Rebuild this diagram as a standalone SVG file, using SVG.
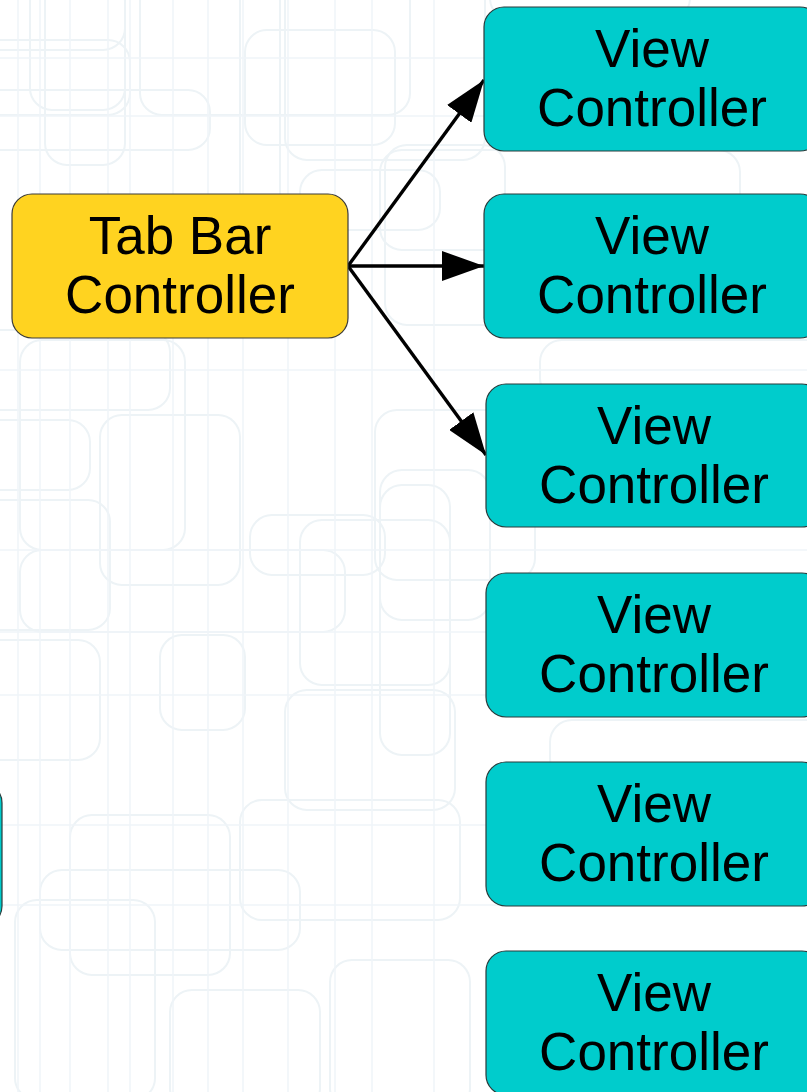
<svg xmlns="http://www.w3.org/2000/svg" width="807" height="1092" viewBox="0 0 807 1092">
  <defs>
    <style>
      .bg { fill: none; stroke: #edf3f6; stroke-width: 2; }
      .bgl { fill: none; stroke: #eff5f8; stroke-width: 1.5; }
      .tab { fill: #ffd320; stroke: #3a3a3a; stroke-width: 1.2; }
      .vc { fill: #00cccc; stroke: #2a3a3a; stroke-width: 1.2; }
      .lbl { font-family: "Liberation Sans", Arial, sans-serif; font-size: 53px; fill: #000; text-anchor: middle; }
      .edge { stroke: #000; stroke-width: 3.4; fill: none; }
    </style>
    <marker id="arrow" viewBox="0 0 42 30" refX="42" refY="15" markerWidth="42" markerHeight="30" markerUnits="userSpaceOnUse" orient="auto">
      <path d="M0,0 L42,15 L0,30 z" fill="#000"/>
    </marker>
  </defs>

  <!-- canvas -->
  <rect width="807" height="1092" fill="#ffffff"/>

  <!-- faint rounded-rectangle backdrop -->
  <g id="backdrop">
    <rect class="bg" x="-20" y="-30" width="145" height="80" rx="22"/>
    <rect class="bg" x="30" y="-20" width="95" height="130" rx="22"/>
    <rect class="bg" x="-20" y="40" width="150" height="75" rx="22"/>
    <rect class="bg" x="45" y="-20" width="80" height="185" rx="22"/>
    <rect class="bg" x="140" y="-20" width="270" height="135" rx="22"/>
    <rect class="bg" x="245" y="30" width="150" height="115" rx="22"/>
    <rect class="bg" x="-20" y="90" width="230" height="60" rx="22"/>
    <rect class="bg" x="240" y="-20" width="40" height="330" rx="22"/>
    <rect class="bg" x="285" y="-20" width="200" height="180" rx="22"/>
    <rect class="bg" x="385" y="145" width="120" height="180" rx="22"/>
    <rect class="bg" x="300" y="170" width="140" height="60" rx="22"/>
    <rect class="bg" x="380" y="150" width="360" height="100" rx="22"/>
    <rect class="bg" x="-20" y="330" width="190" height="80" rx="22"/>
    <rect class="bg" x="20" y="340" width="165" height="210" rx="22"/>
    <rect class="bg" x="-20" y="420" width="110" height="70" rx="22"/>
    <rect class="bg" x="-20" y="500" width="130" height="130" rx="22"/>
    <rect class="bg" x="20" y="550" width="325" height="82" rx="22"/>
    <rect class="bg" x="100" y="415" width="140" height="170" rx="22"/>
    <rect class="bg" x="250" y="515" width="135" height="60" rx="22"/>
    <rect class="bg" x="375" y="410" width="160" height="170" rx="22"/>
    <rect class="bg" x="380" y="485" width="70" height="270" rx="22"/>
    <rect class="bg" x="300" y="520" width="150" height="165" rx="22"/>
    <rect class="bg" x="380" y="470" width="110" height="150" rx="22"/>
    <rect class="bg" x="160" y="635" width="85" height="95" rx="22"/>
    <rect class="bg" x="-20" y="640" width="120" height="120" rx="22"/>
    <rect class="bg" x="285" y="690" width="170" height="120" rx="22"/>
    <rect class="bg" x="70" y="815" width="160" height="160" rx="22"/>
    <rect class="bg" x="15" y="900" width="140" height="200" rx="22"/>
    <rect class="bg" x="240" y="800" width="220" height="120" rx="22"/>
    <rect class="bg" x="170" y="990" width="150" height="120" rx="22"/>
    <rect class="bg" x="330" y="960" width="140" height="150" rx="22"/>
    <rect class="bg" x="40" y="870" width="260" height="80" rx="22"/>
    <rect class="bg" x="490" y="-40" width="200" height="60" rx="22"/>
    <rect class="bg" x="540" y="340" width="300" height="60" rx="22"/>
    <rect class="bg" x="550" y="720" width="290" height="60" rx="22"/>
    <line class="bgl" x1="18" y1="0" x2="18" y2="1092"/>
    <line class="bgl" x1="40" y1="0" x2="40" y2="1092"/>
    <line class="bgl" x1="70" y1="0" x2="70" y2="1092"/>
    <line class="bgl" x1="108" y1="0" x2="108" y2="1092"/>
    <line class="bgl" x1="130" y1="0" x2="130" y2="1092"/>
    <line class="bgl" x1="173" y1="0" x2="173" y2="1092"/>
    <line class="bgl" x1="208" y1="0" x2="208" y2="1092"/>
    <line class="bgl" x1="243" y1="0" x2="243" y2="1092"/>
    <line class="bgl" x1="288" y1="0" x2="288" y2="1092"/>
    <line class="bgl" x1="335" y1="0" x2="335" y2="1092"/>
    <line class="bgl" x1="372" y1="0" x2="372" y2="1092"/>
    <line class="bgl" x1="434" y1="0" x2="434" y2="1092"/>
    <line class="bgl" x1="0" y1="58" x2="807" y2="58"/>
    <line class="bgl" x1="0" y1="116" x2="807" y2="116"/>
    <line class="bgl" x1="0" y1="370" x2="807" y2="370"/>
    <line class="bgl" x1="0" y1="550" x2="807" y2="550"/>
    <line class="bgl" x1="0" y1="632" x2="807" y2="632"/>
    <line class="bgl" x1="0" y1="695" x2="807" y2="695"/>
    <line class="bgl" x1="0" y1="825" x2="807" y2="825"/>
    <line class="bgl" x1="0" y1="905" x2="807" y2="905"/>
  </g>

  <!-- connectors -->
  <g id="connectors">
    <line class="edge" x1="348" y1="266" x2="484" y2="80" marker-end="url(#arrow)"/>
    <line class="edge" x1="348" y1="266" x2="484" y2="266" marker-end="url(#arrow)"/>
    <line class="edge" x1="348" y1="266" x2="486" y2="455" marker-end="url(#arrow)"/>
  </g>

  <!-- partially visible node at the left edge -->
  <g id="node-left">
    <rect class="vc" x="-334" y="783" width="336" height="143" rx="20"/>
  </g>

  <g id="tab-bar-controller">
    <rect class="tab" x="12" y="194" width="336" height="144" rx="20"/>
    <text class="lbl" x="180" y="254">Tab Bar</text>
    <text class="lbl" x="180" y="313">Controller</text>
  </g>

  <g id="view-controller-1">
    <rect class="vc" x="484" y="7" width="336" height="144" rx="20"/>
    <text class="lbl" x="652" y="67">View</text>
    <text class="lbl" x="652" y="126">Controller</text>
  </g>

  <g id="view-controller-2">
    <rect class="vc" x="484" y="194" width="336" height="144" rx="20"/>
    <text class="lbl" x="652" y="254">View</text>
    <text class="lbl" x="652" y="313">Controller</text>
  </g>

  <g id="view-controller-3">
    <rect class="vc" x="486" y="384" width="336" height="143" rx="20"/>
    <text class="lbl" x="654" y="444">View</text>
    <text class="lbl" x="654" y="503">Controller</text>
  </g>

  <g id="view-controller-4">
    <rect class="vc" x="486" y="573" width="336" height="144" rx="20"/>
    <text class="lbl" x="654" y="633">View</text>
    <text class="lbl" x="654" y="692">Controller</text>
  </g>

  <g id="view-controller-5">
    <rect class="vc" x="486" y="762" width="336" height="144" rx="20"/>
    <text class="lbl" x="654" y="822">View</text>
    <text class="lbl" x="654" y="881">Controller</text>
  </g>

  <g id="view-controller-6">
    <rect class="vc" x="486" y="951" width="336" height="144" rx="20"/>
    <text class="lbl" x="654" y="1011">View</text>
    <text class="lbl" x="654" y="1070">Controller</text>
  </g>
</svg>
